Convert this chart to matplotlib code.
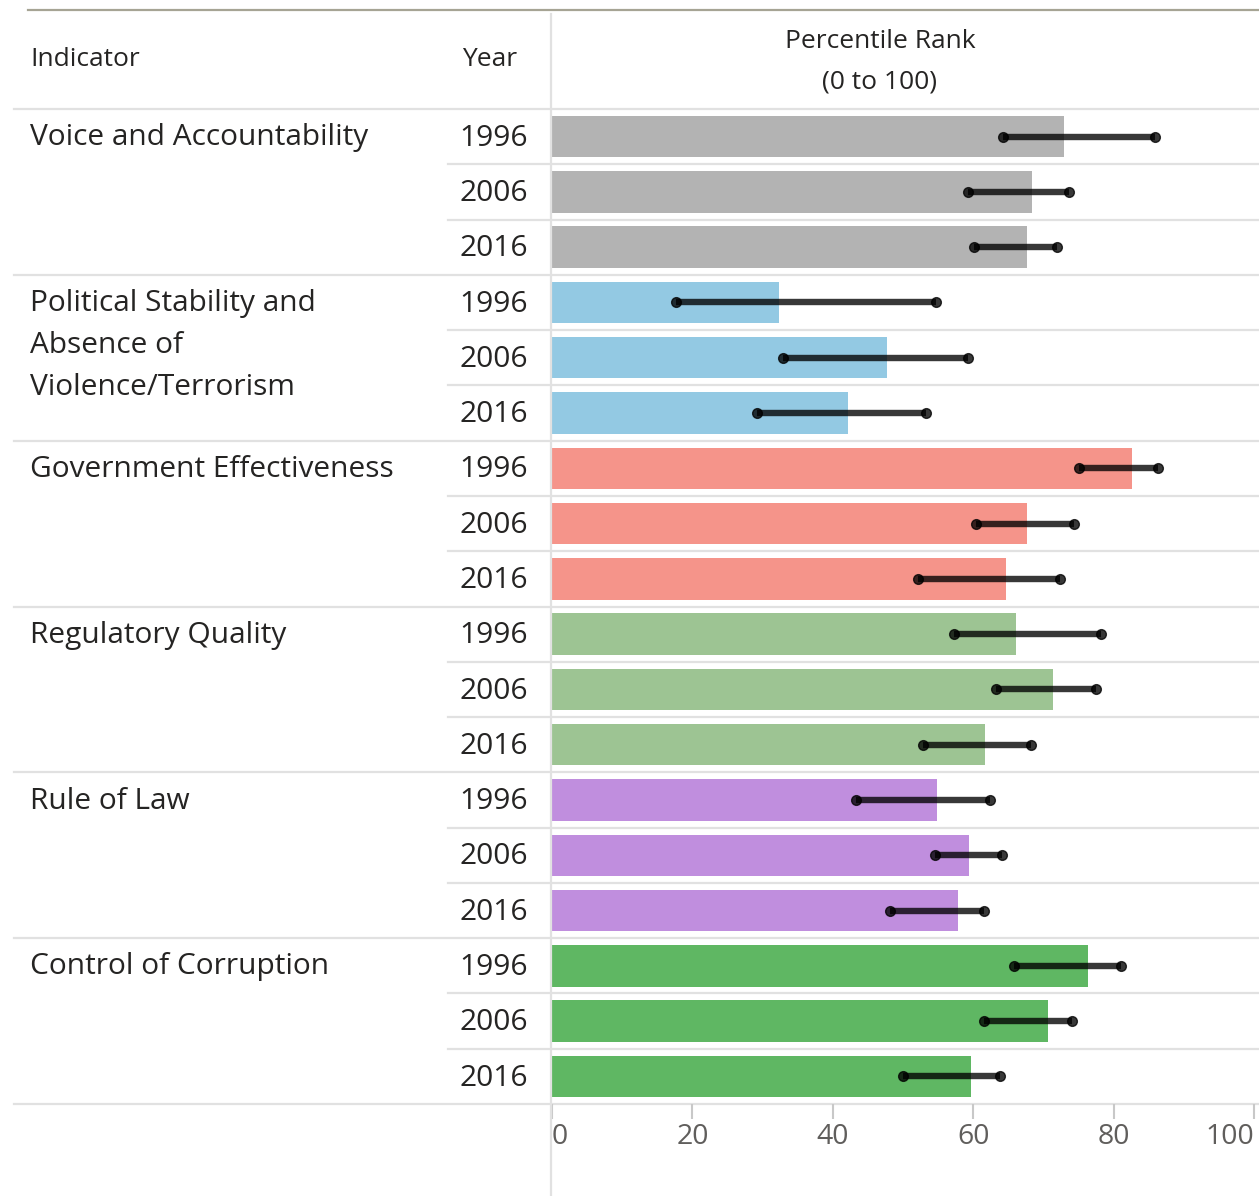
import numpy as np
import matplotlib.pyplot as plt
from matplotlib.transforms import blended_transform_factory

plt.rcParams['font.family'] = ['Open Sans', 'DejaVu Sans']

indicators = ["Voice and Accountability",
              "Political Stability and\nAbsence of\nViolence/Terrorism",
              "Government Effectiveness",
              "Regulatory Quality",
              "Rule of Law",
              "Control of Corruption"]
years = ["1996", "2006", "2016"]
colors = ["#b3b3b3", "#93c9e3", "#f5948a", "#9dc493", "#c08ede", "#5fb763"]

# percentile rank and the margin of error range, per indicator and year
rank = [[72.9, 68.4, 67.7],
        [32.3, 47.7, 42.2],
        [82.6, 67.7, 64.7],
        [66.1, 71.4, 61.7],
        [54.8, 59.4, 57.8],
        [76.4, 70.7, 59.7]]
lower = [[64.2, 59.3, 60.1],
         [17.7, 32.9, 29.2],
         [75.1, 60.4, 52.2],
         [57.3, 63.2, 52.8],
         [43.3, 54.6, 48.1],
         [65.8, 61.5, 50.0]]
upper = [[85.9, 73.6, 71.9],
         [54.7, 59.3, 53.3],
         [86.3, 74.4, 72.4],
         [78.2, 77.5, 68.2],
         [62.4, 64.1, 61.5],
         [81.1, 74.1, 63.8]]
xticks = [0, 20, 40, 60, 80, 100]

W, H = 1259, 1196
fig = plt.figure(figsize=(W / 100, H / 100), dpi=100)
ax = fig.add_axes([552 / W, 1 - 1104 / H, (1254 - 552) / W, (1104 - 109) / H])

n_years = len(years)
n_rows = len(indicators) * n_years
text_col = "#252423"
grid_col = "#e1e1e1"

for g, name in enumerate(indicators):
    pos = np.arange(n_years) + g * n_years
    ax.barh(pos, rank[g], height=0.75, color=colors[g], zorder=2)
    for i in range(n_years):
        ax.plot([lower[g][i], upper[g][i]], [pos[i], pos[i]], '-o', color='black',
                alpha=0.78, lw=4.6, ms=7, zorder=3, solid_capstyle='butt')

ax.set_xlim(0, 100)
ax.set_ylim(n_rows - 0.5, -0.5)
ax.set_yticks([])
ax.set_xticks(xticks)
ax.set_xticklabels([str(t) for t in xticks])
ax.tick_params(axis='x', length=11, width=1.5, color="#c8c8c8", labelsize=20.5,
               labelcolor="#605e5c", pad=3)
for s in ax.spines.values():
    s.set_visible(False)

trans = blended_transform_factory(fig.transFigure, ax.transData)

# row separators
for r in range(n_rows + 1):
    y = r - 0.5
    x0 = 14 / W if r % n_years == 0 else 448 / W
    ax.plot([x0, 1], [y, y], color=grid_col, lw=1.6, transform=trans, clip_on=False, zorder=1)

# vertical divider and top rule
fig.add_artist(plt.Line2D([551 / W, 551 / W], [0, 1 - 14 / H], color=grid_col, lw=1.6))
fig.add_artist(plt.Line2D([28 / W, 1], [1 - 10 / H, 1 - 10 / H], color="#a6a494", lw=1.6))

# table text
line_step = 42 / 55.3
for g, name in enumerate(indicators):
    for k, line in enumerate(name.split("\n")):
        ax.text(30 / W, g * n_years + 0.02 + k * line_step, line, transform=trans,
                ha='left', va='center', fontsize=21.5, color=text_col)
    for i, yr in enumerate(years):
        ax.text(528 / W, g * n_years + i + 0.03, yr, transform=trans, ha='right', va='center',
                fontsize=21.5, color=text_col)

fig.text(30 / W, 1 - 60 / H, "Indicator", ha='left', va='center', fontsize=19, color=text_col)
fig.text(462 / W, 1 - 60 / H, "Year", ha='left', va='center', fontsize=19, color=text_col)
fig.text(880 / W, 1 - 42 / H, "Percentile Rank", ha='center', va='center', fontsize=19, color=text_col)
fig.text(880 / W, 1 - 82 / H, "(0 to 100)", ha='center', va='center', fontsize=19, color=text_col)

fig.canvas.draw()
labels = ax.get_xticklabels()
labels[0].set_ha('left')
labels[-1].set_ha('right')

fig.savefig("out.png", dpi=100)
